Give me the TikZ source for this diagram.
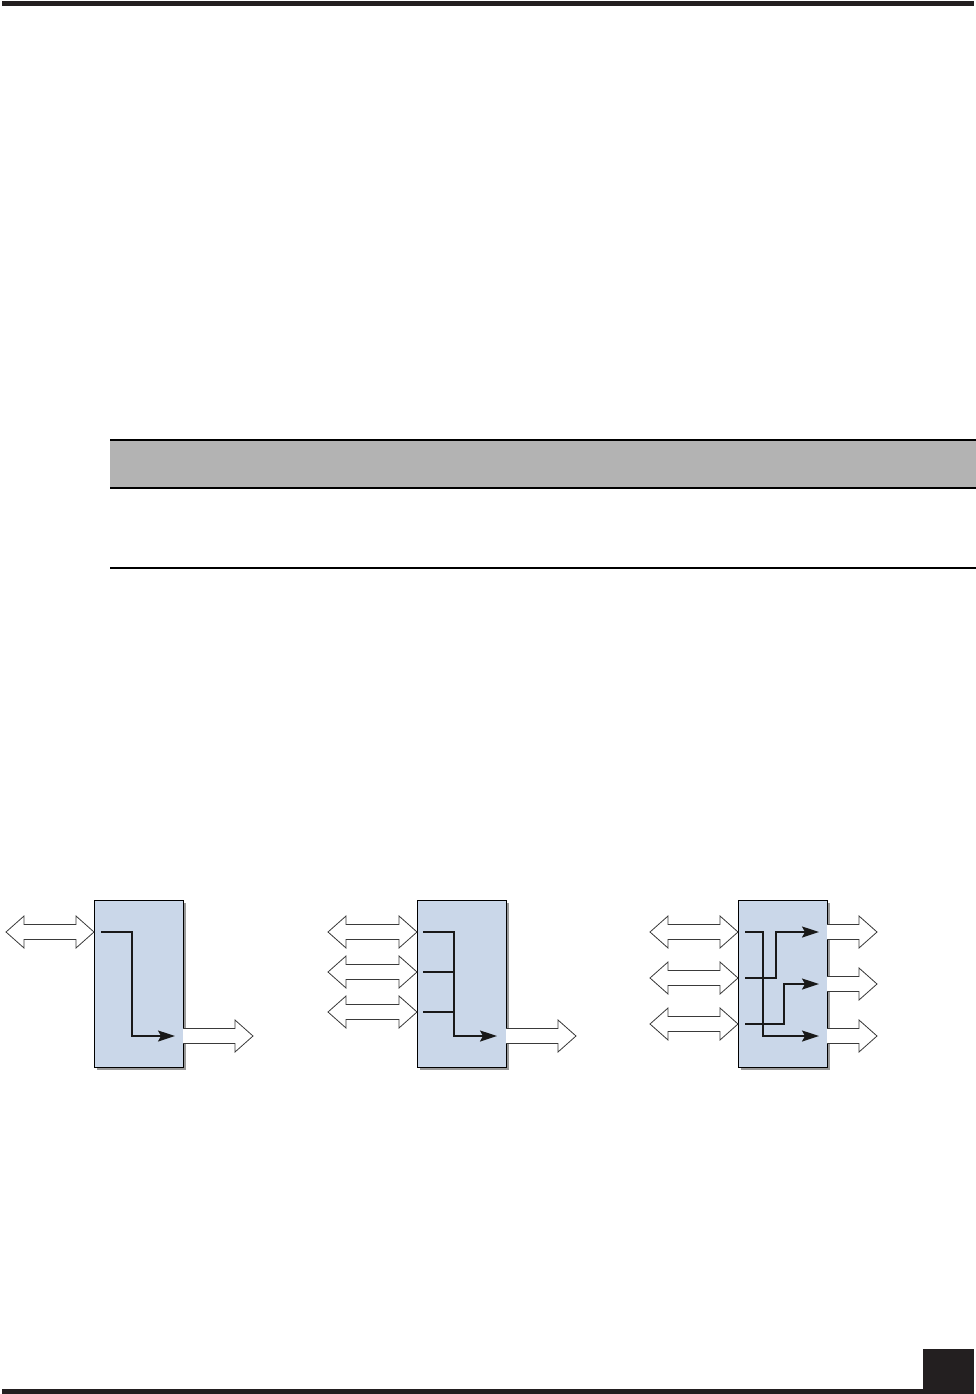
\documentclass[tikz,border=0pt]{standalone}
\usetikzlibrary{arrows.meta,shadows}
\definecolor{inkblack}{HTML}{231F20}
\definecolor{boxblue}{HTML}{CAD7E9}
\definecolor{bandgray}{HTML}{B3B3B3}
\definecolor{outline}{HTML}{3A3A3A}
\tikzset{
  bigarrow/.style={draw=outline, line width=0.8pt, fill=white, line join=miter},
  unitbox/.style={draw=black, line width=0.9pt, fill=boxblue, inner sep=0pt,
    minimum width=89pt, minimum height=167pt, anchor=north west,
    drop shadow={shadow xshift=3pt, shadow yshift=-3pt, fill=black!40, opacity=1}},
  flow/.style={draw=black!90, line width=1.6pt, line join=miter},
  flowarr/.style={flow, -{Stealth[length=17pt, width=11pt, inset=3pt]}},
  rule/.style={draw=black, line width=1.3pt},
  pics/dblarr/.style={code={
    \draw[bigarrow] (0,0) -- (18,-16) -- (18,-7.5) -- (#1-18,-7.5) -- (#1-18,-16)
      -- (#1,0) -- (#1-18,16) -- (#1-18,7.5) -- (18,7.5) -- (18,16) -- cycle;
  }},
  pics/sglarr/.style={code={
    \draw[bigarrow] (0,-7.5) -- (#1-18,-7.5) -- (#1-18,-16) -- (#1,0)
      -- (#1-18,16) -- (#1-18,7.5) -- (0,7.5);
  }},
}
\begin{document}
\begin{tikzpicture}[x=1pt, y=-1pt]
\useasboundingbox (0,0) rectangle (976,1394);
% page rules
\fill[inkblack] (2,1) rectangle (974,6);
\fill[inkblack] (2,1389) rectangle (974,1394);
\fill[inkblack] (923,1349) rectangle (974,1389);
% table
\fill[bandgray] (110,440) rectangle (976,488);
\draw[rule] (110,440) -- (976,440);
\draw[rule] (110,488) -- (976,488);
\draw[rule] (110,568) -- (976,568);
% boxes
\node[unitbox] (b1) at (94,900) {};
\node[unitbox] (b2) at (417,900) {};
\node[unitbox] (b3) at (738,900) {};
% diagram 1
\pic at (6,932) {dblarr=88};
\pic at (183,1036) {sglarr=70};
\coordinate (a1) at (101,932);
\coordinate (a1e) at (175,1036);
\draw[flowarr] (a1) -- (132,932) -- (132,1036) -- (a1e);
% diagram 2
\pic at (328,932) {dblarr=89};
\pic at (328,972) {dblarr=89};
\pic at (328,1012) {dblarr=89};
\pic at (506,1036) {sglarr=70};
\coordinate (c1) at (423,932);
\coordinate (c2) at (423,972);
\coordinate (c3) at (423,1012);
\coordinate (ce) at (497,1036);
\draw[flowarr] (c1) -- (454,932) -- (454,1036) -- (ce);
\draw[flow] (c2) -- (454,972);
\draw[flow] (c3) -- (454,1012);
% diagram 3
\pic at (650,932) {dblarr=88};
\pic at (650,978) {dblarr=88};
\pic at (650,1024) {dblarr=88};
\pic at (827,932) {sglarr=50};
\pic at (827,984) {sglarr=50};
\pic at (827,1036) {sglarr=50};
\coordinate (e1) at (745,932);
\coordinate (e2) at (745,978);
\coordinate (e3) at (745,1024);
\coordinate (o1) at (819,932);
\coordinate (o2) at (819,984);
\coordinate (o3) at (819,1036);
\draw[flowarr] (e1) -- (763,932) -- (763,1036) -- (o3);
\draw[flowarr] (e2) -- (776,978) -- (776,932) -- (o1);
\draw[flowarr] (e3) -- (784,1024) -- (784,984) -- (o2);
\end{tikzpicture}
\end{document}
